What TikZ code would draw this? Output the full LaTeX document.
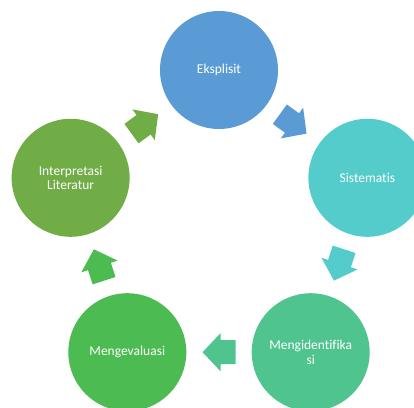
\documentclass[tikz,border=0pt]{standalone}
\usepackage{fontspec}
\setmainfont{Carlito}[Ligatures=NoCommon]
\usepackage{tikz}
\usetikzlibrary{calc}
\definecolor{CycBlue}{HTML}{5B9BD5}
\definecolor{CycTeal}{HTML}{55CCCC}
\definecolor{CycMint}{HTML}{4FC48F}
\definecolor{CycGreen}{HTML}{4BBB52}
\definecolor{CycOlive}{HTML}{70AD47}
\tikzset{
  stage/.style={circle, minimum size=118pt, inner sep=0pt, text=white,
    align=center, font=\fontsize{13.5}{14.5}\selectfont},
  pics/blockarrow/.style={code={
    \fill[#1] (-16.5,-12) -- (-1.5,-12) -- (-1.5,-19) -- (16.5,0)
      -- (-1.5,19) -- (-1.5,12) -- (-16.5,12) -- cycle;}}
}

\begin{document}
\begin{tikzpicture}[x=1pt, y=1pt]
  \useasboundingbox (0,0) rectangle (414,407);
  \clip (0,0) rectangle (414,407);
  \coordinate (hub) at (219,181);
  % the five stages of the cycle
  \node[stage, fill=CycBlue] (eks) at ([shift={(90:156pt)}]hub) {Eksplisit};
  \node[stage, fill=CycTeal] (sis) at ([shift={(18:156pt)}]hub) {Sistematis};
  \node[stage, fill=CycMint] (ide) at ([shift={(-54:156pt)}]hub) {Mengidentifika\\si};
  \node[stage, fill=CycGreen] (eva) at ([shift={(-126:156pt)}]hub) {Mengevaluasi};
  \node[stage, fill=CycOlive] (int) at ([shift={(162:156pt)}]hub) {Interpretasi\\Literatur};
  % block arrows between neighbours
  \pic[rotate=-36] (a1) at ($(eks)!0.5!(sis)$) {blockarrow=CycBlue};
  \pic[rotate=-108] (a2) at ($(sis)!0.5!(ide)$) {blockarrow=CycTeal};
  \pic[rotate=180] (a3) at ($(ide)!0.5!(eva)$) {blockarrow=CycMint};
  \pic[rotate=108] (a4) at ($(eva)!0.5!(int)$) {blockarrow=CycGreen};
  \pic[rotate=36] (a5) at ($(int)!0.5!(eks)$) {blockarrow=CycOlive};
\end{tikzpicture}
\end{document}
